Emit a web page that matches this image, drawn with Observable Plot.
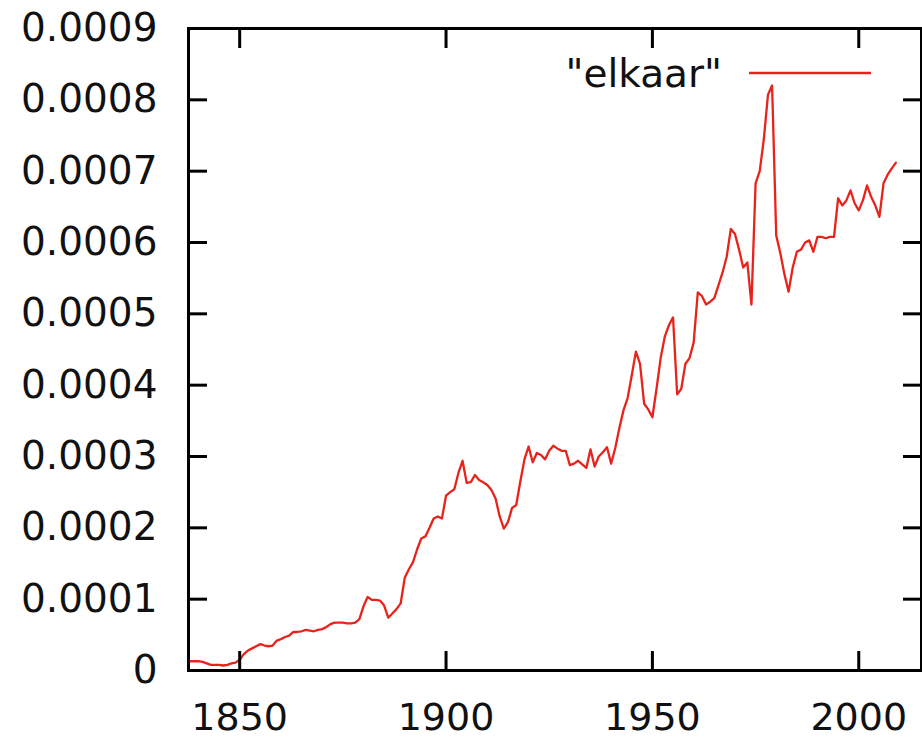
<!DOCTYPE html>
<html>
<head>
<meta charset="utf-8">
<script src="https://cdn.jsdelivr.net/npm/d3@7"></script>
<script src="https://cdn.jsdelivr.net/npm/@observablehq/plot@0.6"></script>
<style>
  html, body { margin: 0; padding: 0; background: #fff; }
  #chart { width: 922px; height: 736px; }
</style>
</head>
<body>
<div id="chart"></div>
<script>
// ---- data ----
const seriesName = '"elkaar"';
const firstYear = 1838;
const valueUnit = 1e-4;
// relative frequency per year, in units of 0.0001
const frequency = [
  0.13, 0.13, 0.13, 0.12, 0.10, 0.08, 0.08, 0.08, 0.07, 0.08, 0.10, 0.11,   // 1838-1849
  0.15, 0.23, 0.28, 0.31, 0.34, 0.37, 0.35, 0.34, 0.35, 0.42,               // 1850s
  0.44, 0.47, 0.49, 0.54, 0.54, 0.55, 0.57, 0.56, 0.55, 0.57,               // 1860s
  0.58, 0.61, 0.65, 0.67, 0.67, 0.67, 0.66, 0.66, 0.67, 0.72,               // 1870s
  0.90, 1.03, 0.99, 0.99, 0.98, 0.91, 0.74, 0.80, 0.86, 0.94,               // 1880s
  1.30, 1.42, 1.52, 1.70, 1.85, 1.88, 2.00, 2.13, 2.16, 2.13,               // 1890s
  2.45, 2.50, 2.54, 2.77, 2.94, 2.63, 2.64, 2.74, 2.67, 2.64,               // 1900s
  2.60, 2.53, 2.41, 2.16, 1.99, 2.08, 2.28, 2.32, 2.65, 2.96,               // 1910s
  3.14, 2.92, 3.05, 3.02, 2.96, 3.08, 3.15, 3.11, 3.08, 3.08,               // 1920s
  2.88, 2.90, 2.94, 2.89, 2.84, 3.10, 2.86, 3.00, 3.06, 3.13,               // 1930s
  2.90, 3.12, 3.40, 3.65, 3.82, 4.14, 4.47, 4.30, 3.74, 3.66,               // 1940s
  3.55, 3.95, 4.38, 4.68, 4.84, 4.95, 3.87, 3.95, 4.30, 4.38,               // 1950s
  4.60, 5.30, 5.25, 5.13, 5.17, 5.22, 5.40, 5.58, 5.80, 6.19,               // 1960s
  6.12, 5.90, 5.65, 5.72, 5.13, 6.83, 7.00, 7.45, 8.07, 8.20,               // 1970s
  6.10, 5.85, 5.55, 5.31, 5.65, 5.87, 5.90, 6.00, 6.03, 5.87,               // 1980s
  6.08, 6.08, 6.06, 6.08, 6.08, 6.62, 6.52, 6.59, 6.73, 6.55,               // 1990s
  6.45, 6.59, 6.80, 6.64, 6.52, 6.36, 6.83, 6.95, 7.04, 7.12                // 2000s
];
const xTicks = [1850, 1900, 1950, 2000];
const yTicks = [0, 0.0001, 0.0002, 0.0003, 0.0004, 0.0005, 0.0006, 0.0007, 0.0008, 0.0009];
const xDomain = [1837.6, 2015.2];
const yDomain = [0, 0.0009];

// ---- build table ----
const rows = frequency.map((v, i) => ({ year: firstYear + i, value: v * valueUnit }));

const fontFamily = "'DejaVu Sans', Verdana, sans-serif";
const lineColor = "#e8231c";
const yFormat = d => d === 0 ? "0" : d.toFixed(4);

// legend (key entry drawn inside the frame, top right)
function legendMark(index, scales, values, dims) {
  const ns = "http://www.w3.org/2000/svg";
  const g = document.createElementNS(ns, "g");
  const right = dims.width - dims.marginRight;
  const yPos = dims.marginTop + 45;
  const line = document.createElementNS(ns, "line");
  line.setAttribute("x1", right - 172);
  line.setAttribute("x2", right - 50);
  line.setAttribute("y1", yPos);
  line.setAttribute("y2", yPos);
  line.setAttribute("stroke", lineColor);
  line.setAttribute("stroke-width", 2.5);
  const text = document.createElementNS(ns, "text");
  text.setAttribute("x", right - 199);
  text.setAttribute("y", yPos);
  text.setAttribute("dy", "0.35em");
  text.setAttribute("text-anchor", "end");
  text.setAttribute("fill", "#111");
  text.textContent = seriesName;
  g.appendChild(line);
  g.appendChild(text);
  return g;
}

const chart = Plot.plot({
  width: 922,
  height: 736,
  marginLeft: 188,
  marginRight: 1,
  marginTop: 28,
  marginBottom: 66,
  style: { fontFamily, fontSize: "39px", color: "#111", background: "#fff" },
  x: { domain: xDomain, label: null },
  y: { domain: yDomain, label: null },
  marks: [
    Plot.line(rows, { x: "year", y: "value", stroke: lineColor, strokeWidth: 2.3 }),
    // tick labels
    Plot.axisX(xTicks, { anchor: "bottom", tickSize: 0, tickPadding: 33, fontSize: 38, tickFormat: d => String(d), fill: "#111" }),
    Plot.axisY(yTicks, { anchor: "left", tickSize: 0, tickPadding: 31, tickFormat: yFormat, fill: "#111" }),
    // inward ticks, mirrored on all sides
    Plot.axisX(xTicks, { anchor: "bottom", tickSize: -19, strokeWidth: 3, stroke: "#000", tickFormat: () => "" }),
    Plot.axisX(xTicks, { anchor: "top", tickSize: -19, strokeWidth: 3, stroke: "#000", tickFormat: () => "" }),
    Plot.axisY(yTicks, { anchor: "left", tickSize: -19, strokeWidth: 3, stroke: "#000", tickFormat: () => "" }),
    Plot.axisY(yTicks, { anchor: "right", tickSize: -19, strokeWidth: 3, stroke: "#000", tickFormat: () => "" }),
    Plot.frame({ stroke: "#000", strokeWidth: 3 }),
    legendMark
  ]
});

document.getElementById("chart").appendChild(chart);
</script>
</body>
</html>
